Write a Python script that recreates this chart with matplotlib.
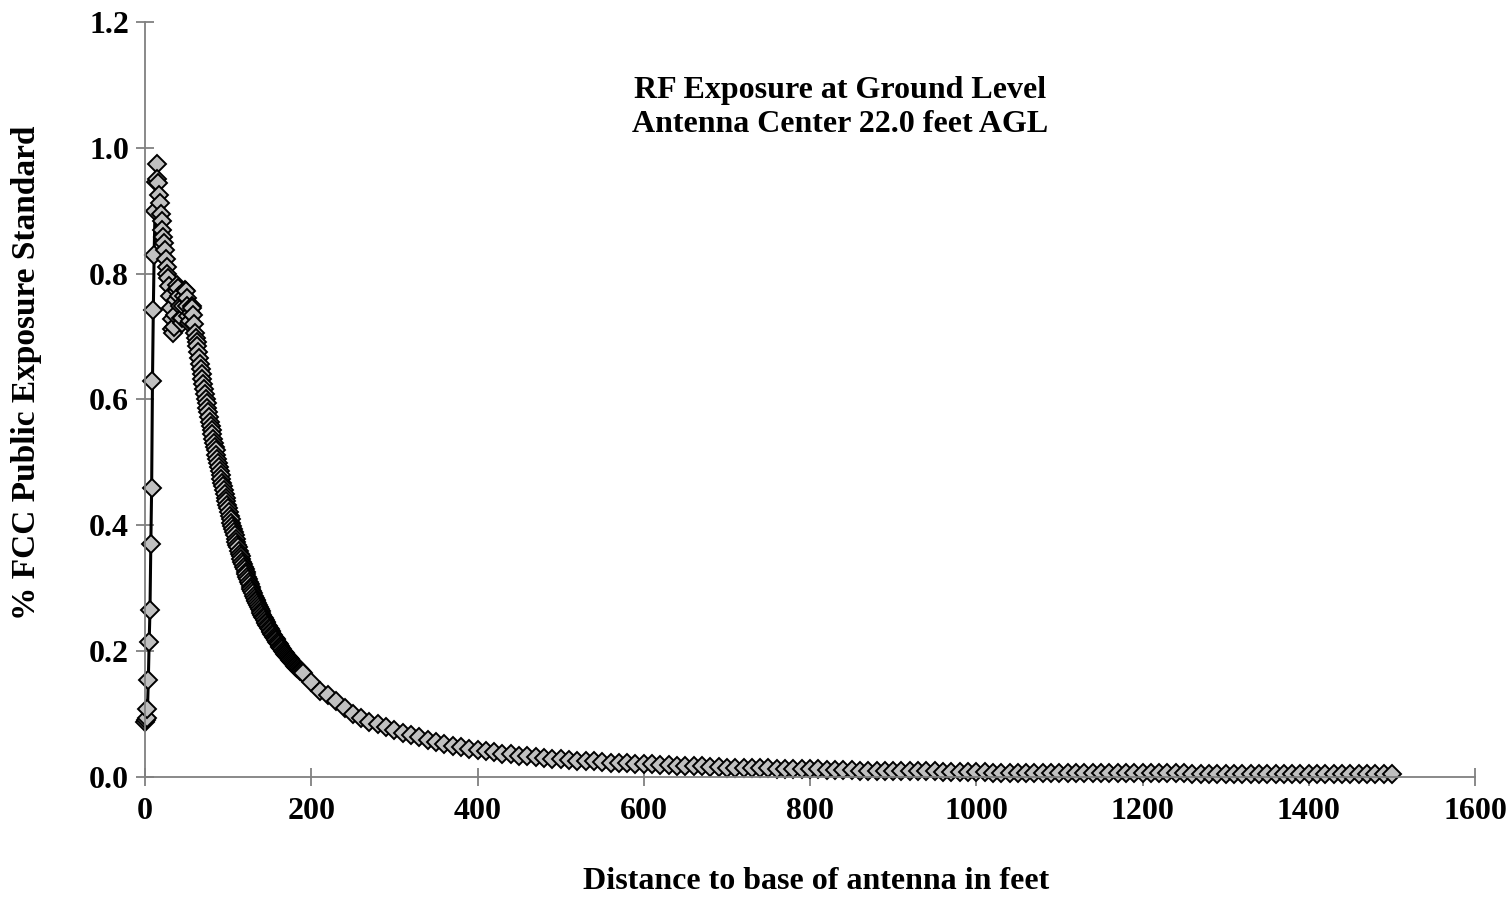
import matplotlib
matplotlib.use("Agg")
import matplotlib.pyplot as plt

plt.rcParams['font.family'] = ['Liberation Serif', 'DejaVu Serif']
plt.rcParams['font.weight'] = 'bold'

# near field, 1 ft steps (0-190 ft)
near_ft = list(range(0, 191))
near_pct = [
    0.088, 0.090, 0.093, 0.108, 0.154, 0.215, 0.265, 0.370, 0.460, 0.630,
    0.742, 0.830, 0.899, 0.946, 0.975, 0.950, 0.944, 0.925, 0.912, 0.895,
    0.883, 0.870, 0.859, 0.848, 0.838, 0.824, 0.811, 0.800, 0.793, 0.780,
    0.765, 0.745, 0.728, 0.712, 0.706, 0.715, 0.735, 0.758, 0.772, 0.782,
    0.778, 0.765, 0.748, 0.730, 0.722, 0.730, 0.748, 0.765, 0.774, 0.772,
    0.762, 0.748, 0.733, 0.722, 0.725, 0.738, 0.748, 0.745, 0.734, 0.720,
    0.706, 0.698, 0.692, 0.685, 0.676, 0.666, 0.657, 0.648, 0.640, 0.632,
    0.624, 0.616, 0.608, 0.600, 0.594, 0.587, 0.580, 0.572, 0.565, 0.558,
    0.552, 0.545, 0.538, 0.531, 0.525, 0.519, 0.512, 0.505, 0.499, 0.493,
    0.487, 0.480, 0.474, 0.468, 0.462, 0.456, 0.450, 0.444, 0.438, 0.432,
    0.427, 0.421, 0.415, 0.410, 0.404, 0.399, 0.394, 0.389, 0.384, 0.379,
    0.374, 0.369, 0.365, 0.360, 0.355, 0.351, 0.347, 0.342, 0.338, 0.334,
    0.330, 0.326, 0.322, 0.318, 0.314, 0.310, 0.306, 0.302, 0.299, 0.295,
    0.292, 0.288, 0.285, 0.282, 0.279, 0.276, 0.273, 0.270, 0.267, 0.264,
    0.261, 0.258, 0.255, 0.253, 0.250, 0.247, 0.245, 0.242, 0.240, 0.237,
    0.235, 0.232, 0.230, 0.228, 0.225, 0.223, 0.221, 0.219, 0.217, 0.215,
    0.213, 0.211, 0.209, 0.207, 0.205, 0.203, 0.201, 0.199, 0.197, 0.196,
    0.194, 0.192, 0.190, 0.189, 0.187, 0.186, 0.184, 0.183, 0.181, 0.180,
    0.178, 0.177, 0.175, 0.174, 0.173, 0.171, 0.170, 0.169, 0.168, 0.167,
    0.166,
]

# far field, 10 ft steps (200-1500 ft)
far_ft = list(range(200, 1501, 10))
far_pct = [
    0.151, 0.137, 0.130, 0.121, 0.109, 0.100, 0.094, 0.088, 0.084, 0.079,
    0.075, 0.070, 0.067, 0.063, 0.059, 0.056, 0.053, 0.050, 0.048, 0.045,
    0.043, 0.041, 0.039, 0.037, 0.036, 0.034, 0.033, 0.032, 0.030, 0.029,
    0.028, 0.027, 0.026, 0.025, 0.025, 0.024, 0.023, 0.022, 0.022, 0.021,
    0.020, 0.020, 0.019, 0.019, 0.018, 0.018, 0.017, 0.017, 0.016, 0.016,
    0.015, 0.015, 0.015, 0.014, 0.014, 0.014, 0.013, 0.013, 0.013, 0.012,
    0.012, 0.012, 0.011, 0.011, 0.011, 0.011, 0.010, 0.010, 0.010, 0.010,
    0.010, 0.009, 0.009, 0.009, 0.009, 0.009, 0.008, 0.008, 0.008, 0.008,
    0.008, 0.008,
    0.007, 0.007, 0.007, 0.007, 0.007, 0.007, 0.007, 0.007, 0.007, 0.007, 0.007,
    0.006, 0.006, 0.006, 0.006, 0.006, 0.006, 0.006, 0.006, 0.006, 0.006, 0.006, 0.006, 0.006,
    0.005, 0.005, 0.005, 0.005, 0.005, 0.005, 0.005, 0.005, 0.005, 0.005, 0.005, 0.005, 0.005, 0.005,
    0.004, 0.004, 0.004, 0.004, 0.004, 0.004, 0.004, 0.004, 0.004, 0.004, 0.004,
]

dist = near_ft + far_ft
pct = near_pct + far_pct

x_ticks = [0, 200, 400, 600, 800, 1000, 1200, 1400, 1600]
y_ticks = [0.0, 0.2, 0.4, 0.6, 0.8, 1.0, 1.2]

fig = plt.figure(figsize=(15.12, 8.98), dpi=100)
ax = fig.add_axes([145 / 1512, 1 - 777 / 898, 1330 / 1512, 755 / 898])

ax.plot(dist, pct, color='black', lw=2.2, marker='D', markersize=8.8,
        markerfacecolor='#c0c0c0', markeredgecolor='black', markeredgewidth=1.4,
        clip_on=False)

ax.set_xlim(0, 1600)
ax.set_ylim(0, 1.2)
ax.set_xticks(x_ticks)
ax.set_yticks(y_ticks)
ax.set_yticklabels([f"{v:.1f}" for v in y_ticks])

for side in ['top', 'right']:
    ax.spines[side].set_visible(False)
for side in ['left', 'bottom']:
    ax.spines[side].set_color('#808080')
    ax.spines[side].set_linewidth(1.3)

ax.tick_params(direction='inout', length=13, width=1.3, color='#808080',
               labelsize=23, pad=5)
ax.tick_params(axis='x', pad=8)

ax.set_xlabel('Distance to base of antenna in feet', fontsize=23, fontweight='bold')
ax.set_ylabel('% FCC Public Exposure Standard', fontsize=24, fontweight='bold')
ax.xaxis.set_label_coords(0.5045, -0.119)
ax.yaxis.set_label_coords(-0.0774, 0.536)

ax.text(0.5225, 0.887, 'RF Exposure at Ground Level\nAntenna Center 22.0 feet AGL',
        transform=ax.transAxes, ha='center', va='center', fontsize=23,
        fontweight='bold', linespacing=1.2)

fig.savefig('out.png', dpi=100)
